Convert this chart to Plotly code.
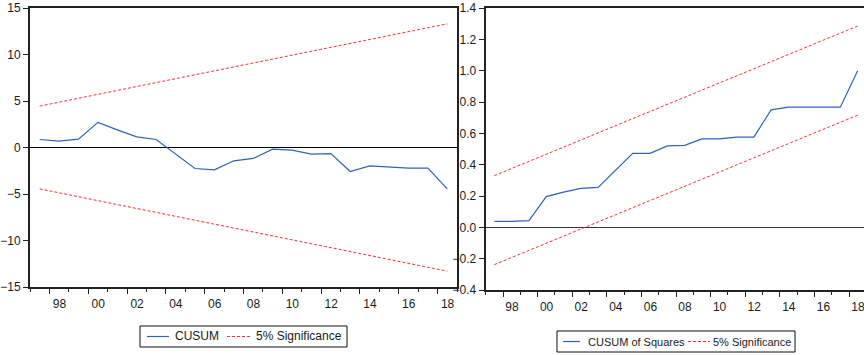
import plotly.graph_objects as go

# ---------------- data ----------------
years = list(range(1997, 2019))
cusum = [0.86, 0.68, 0.90, 2.70, 1.90, 1.15, 0.86, -0.70, -2.26, -2.40, -1.43,
         -1.18, -0.18, -0.29, -0.72, -0.65, -2.58, -1.97, -2.08, -2.22, -2.22, -4.44]
bound_years = [1997, 2018]
cusum_upper = [4.45, 13.3]
cusum_lower = [-4.45, -13.3]

cusumsq = [0.038, 0.038, 0.043, 0.196, 0.225, 0.249, 0.255, 0.363, 0.472, 0.472,
           0.520, 0.523, 0.565, 0.565, 0.576, 0.576, 0.750, 0.767, 0.767, 0.767,
           0.767, 1.000]
sq_upper = [0.330, 1.285]
sq_lower = [-0.238, 0.716]

tick_years = list(range(1998, 2019, 2))
tick_text = ["98", "00", "02", "04", "06", "08", "10", "12", "14", "16", "18"]
left_yticks = [15, 10, 5, 0, -5, -10, -15]
right_yticks = [1.4, 1.2, 1.0, 0.8, 0.6, 0.4, 0.2, 0.0, -0.2, -0.4]

left_legend = ["CUSUM", "5% Significance"]
right_legend = ["CUSUM of Squares", "5% Significance"]

# ---------------- styles ----------------
BLUE = "#2f62b5"
RED = "#f03232"
DASH = "3px,2px"
FONT = "Liberation Sans, Arial, sans-serif"
W, H = 864, 355
ML, MR, MT, MB = 30, 0, 8, 65
PW = W - ML - MR
PH = H - MT - MB

LEFT_X0, LEFT_X1 = 30, 457
RIGHT_X0 = 485.7
YEAR_PX_LEFT = (LEFT_X1 - LEFT_X0) / 22.0
YEAR_PX_RIGHT = 17.3


def px_x(p):
    return (p - ML) / PW


def px_y(p):
    return (H - MB - p) / PH


fig = go.Figure()

# left panel
fig.add_trace(go.Scatter(x=years, y=cusum, mode="lines", name=left_legend[0],
                         line=dict(color=BLUE, width=1.2), xaxis="x", yaxis="y"))
fig.add_trace(go.Scatter(x=bound_years, y=cusum_upper, mode="lines", name=left_legend[1],
                         line=dict(color=RED, width=1, dash=DASH), xaxis="x", yaxis="y"))
fig.add_trace(go.Scatter(x=bound_years, y=cusum_lower, mode="lines", name=left_legend[1],
                         line=dict(color=RED, width=1, dash=DASH), xaxis="x", yaxis="y"))

# right panel
fig.add_trace(go.Scatter(x=years, y=cusumsq, mode="lines", name=right_legend[0],
                         line=dict(color=BLUE, width=1.2), xaxis="x2", yaxis="y2"))
fig.add_trace(go.Scatter(x=bound_years, y=sq_upper, mode="lines", name=right_legend[1],
                         line=dict(color=RED, width=1, dash=DASH), xaxis="x2", yaxis="y2"))
fig.add_trace(go.Scatter(x=bound_years, y=sq_lower, mode="lines", name=right_legend[1],
                         line=dict(color=RED, width=1, dash=DASH), xaxis="x2", yaxis="y2"))

# ticks sit on the year boundaries (long every other one), labels centred in the year
boundary_ticks = [y - 0.5 for y in tick_years]


def xaxis_common(shift):
    return dict(
        tickmode="array", tickvals=boundary_ticks, ticktext=tick_text,
        ticks="outside", ticklen=5, tickcolor="#222", tickwidth=1,
        ticklabelshift=int(round(shift)), ticklabeloverflow="allow",
        showgrid=False, zeroline=False,
        showline=True, linecolor="#222", linewidth=2, mirror=True,
        minor=dict(tickmode="linear", tick0=1996.5, dtick=1, ticks="outside",
                   ticklen=3, tickcolor="#222", tickwidth=1, showgrid=False),
        automargin=False, fixedrange=True, tickfont=dict(size=12),
    )


yaxis_common = dict(
    ticks="outside", ticklen=5, tickcolor="#222", showgrid=False,
    zeroline=True, zerolinewidth=1,
    showline=True, linecolor="#222", linewidth=2, mirror=True,
    automargin=False, fixedrange=True, tickfont=dict(size=12),
)

fig.update_layout(
    width=W, height=H,
    margin=dict(l=ML, r=MR, t=MT, b=MB),
    paper_bgcolor="white", plot_bgcolor="white",
    font=dict(family=FONT, size=12, color="#1a1a1a"),
    showlegend=False,
    xaxis=dict(domain=[0, px_x(LEFT_X1)], range=[1996.5, 2018.5], anchor="y",
               **xaxis_common(YEAR_PX_LEFT / 2)),
    yaxis=dict(domain=[px_y(287), 1], range=[-15, 15], anchor="x",
               tickmode="array", tickvals=left_yticks, zerolinecolor="black",
               **yaxis_common),
    xaxis2=dict(domain=[px_x(RIGHT_X0), 1],
                range=[1996.5, 1996.5 + (W - RIGHT_X0) / YEAR_PX_RIGHT],
                anchor="y2", **xaxis_common(YEAR_PX_RIGHT / 2)),
    yaxis2=dict(domain=[0, 1], range=[-0.4, 1.4], anchor="x2",
                tickmode="array", tickvals=right_yticks, tickformat=".1f",
                zerolinecolor="#333", **yaxis_common),
)

# ---------------- legends (boxed, below each panel) ----------------
def add_legend(box, items, fsize):
    x0, x1, y0, y1 = box
    fig.add_shape(type="rect", xref="paper", yref="paper",
                  x0=px_x(x0), x1=px_x(x1), y0=px_y(y0), y1=px_y(y1),
                  line=dict(color="#111", width=1), fillcolor="white")
    yc = px_y((y0 + y1) / 2)
    for (lx0, lx1, tx, color, dash, text) in items:
        fig.add_shape(type="line", xref="paper", yref="paper",
                      x0=px_x(lx0), x1=px_x(lx1), y0=yc, y1=yc,
                      line=dict(color=color, width=1.2 if dash is None else 1, dash=dash))
        fig.add_annotation(xref="paper", yref="paper", x=px_x(tx), y=yc,
                           xanchor="left", yanchor="middle", showarrow=False,
                           text=text, font=dict(size=fsize, family=FONT, color="#1a1a1a"),
                           borderpad=0)


add_legend((140, 347, 326, 347),
           [(147, 169, 174, BLUE, None, left_legend[0]),
            (227, 252, 255, RED, DASH, left_legend[1])], 12)
add_legend((557, 795, 331, 352),
           [(563, 580, 587, BLUE, None, right_legend[0]),
            (688, 710, 712, RED, DASH, right_legend[1])], 11)

fig.write_html(
    "out.html",
    config={"displayModeBar": False, "staticPlot": True},
    post_script="document.body.style.margin='0px';document.body.style.overflow='hidden';",
)
